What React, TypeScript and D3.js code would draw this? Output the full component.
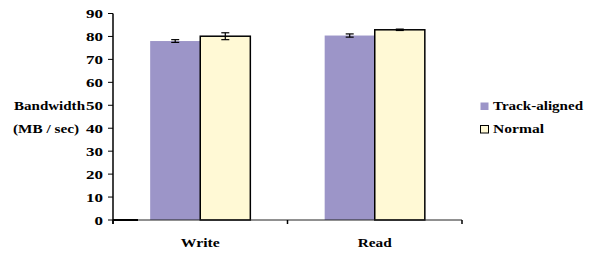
import React from "react";
import * as d3 from "d3";

const categories = ["Write", "Read"];
const seriesNames = ["Track-aligned", "Normal"];
const trackAligned = [78.0, 80.4];
const trackAlignedErr = [0.6, 0.7];
const normal = [80.1, 82.9];
const normalErr = [1.5, 0.3];
const yTicks = [0, 10, 20, 30, 40, 50, 60, 70, 80, 90];

const colors = ["#9c95c8", "#fff9d5"];
const strokes = ["none", "#000"];

const FONT = "Liberation Serif";

function T(props: any) {
  const { len, children, ...rest } = props;
  return (
    <text fontFamily={FONT} fontWeight="bold" fontSize={13.5} fill="#000"
      textLength={len} lengthAdjust="spacingAndGlyphs" {...rest}>{children}</text>
  );
}

export default function App() {
  const W = 590, H = 254;
  const left = 113, right = 462, top = 13.5, bottom = 220;
  const y = d3.scaleLinear().domain([0, 90]).range([bottom, top]);
  const x0 = d3.scaleBand().domain(categories).range([left, right]).padding(0);
  const bw = x0.bandwidth();
  const x1 = d3.scaleBand().domain(seriesNames).range([bw * 0.213, bw * 0.787]).padding(0);
  const values = [trackAligned, normal];
  const errs = [trackAlignedErr, normalErr];
  const catWidths = [39, 34];

  return (
    <svg width={W} height={H} style={{ position: "absolute", left: 0, top: 0, background: "#fff" }}>
      {categories.map((c, ci) =>
        seriesNames.map((s, si) => {
          const v = values[si][ci];
          const bx = (x0(c) as number) + (x1(s) as number);
          const w = x1.bandwidth();
          return (
            <rect key={c + s} x={bx} y={y(v)} width={w} height={y(0) - y(v)}
              fill={colors[si]} stroke={strokes[si]} strokeWidth={si === 1 ? 1.5 : 0} />
          );
        })
      )}
      {categories.map((c, ci) =>
        seriesNames.map((s, si) => {
          const v = values[si][ci];
          const e = errs[si][ci];
          const cx = (x0(c) as number) + (x1(s) as number) + x1.bandwidth() / 2;
          return (
            <g key={"e" + c + s} stroke="#000" strokeWidth={1.2}>
              <line x1={cx} x2={cx} y1={y(v + e)} y2={y(v - e)} />
              <line x1={cx - 4} x2={cx + 4} y1={y(v + e)} y2={y(v + e)} />
              <line x1={cx - 4} x2={cx + 4} y1={y(v - e)} y2={y(v - e)} />
            </g>
          );
        })
      )}
      <line x1={left} x2={left} y1={top} y2={bottom + 4} stroke="#000" strokeWidth={1.5} />
      {yTicks.map((t) => (
        <g key={t}>
          <line x1={left - 5} x2={left} y1={y(t)} y2={y(t)} stroke="#000" strokeWidth={1} />
          <T x={103} y={y(t) + 4.8} textAnchor="end" len={t === 0 ? 8.5 : 17}>{t}</T>
        </g>
      ))}
      <line x1={left} x2={right} y1={bottom} y2={bottom} stroke="#222" strokeWidth={1} />
      <line x1={left} x2={left + 25} y1={bottom} y2={bottom} stroke="#000" strokeWidth={2} />
      {[left, ...categories.map((c) => (x0(c) as number) + bw)].map((tx, i) => (
        <line key={i} x1={tx} x2={tx} y1={bottom} y2={bottom + 4} stroke="#000" strokeWidth={1.5} />
      ))}
      {categories.map((c, i) => (
        <T key={c} x={(x0(c) as number) + bw / 2 - catWidths[i] / 2} y={247} len={catWidths[i]}>{c}</T>
      ))}
      <T x={14} y={110} len={71}>Bandwidth</T>
      <T x={13} y={132.5} len={66}>(MB / sec)</T>
      {seriesNames.map((s, i) => (
        <g key={s}>
          <rect x={480.5} y={102.5 + i * 23} width={8} height={7.5} fill={colors[i]}
            stroke={strokes[i]} strokeWidth={i === 1 ? 1 : 0} />
          <T x={493} y={110 + i * 23} len={i === 0 ? 90 : 51}>{s}</T>
        </g>
      ))}
    </svg>
  );
}
